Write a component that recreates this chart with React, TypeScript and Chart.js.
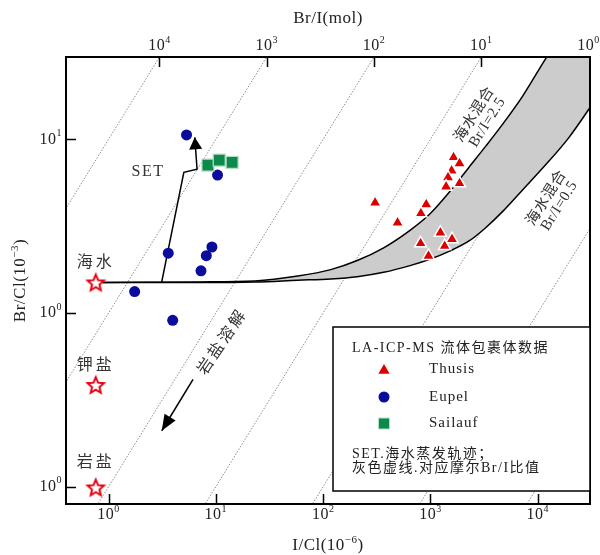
import React, { useEffect, useRef } from 'react';
import { Chart, registerables } from 'chart.js';

Chart.register(...registerables);

// ---------- axis ranges & ticks ----------
const xRange = [0.401, 30740];
const yRange = [0.0795, 29.8];
const xTickValues = [1, 10, 100, 1000, 10000];
const xTickExps = ['0', '1', '2', '3', '4'];
const yTickValues = [10, 1, 0.1];
const yTickExps = ['1', '0', '0'];
const topTickValues = [10000, 1000, 100, 10, 1];
const topTickExps = ['4', '3', '2', '1', '0'];
const brIRatios = [1e4, 1e3, 1e2, 1e1, 1e0, 1e-1, 1e-2];

// ---------- data ----------
const thusisICl = [1644, 1868, 1577, 1460, 1868, 1400, 305, 914, 815, 494, 1239, 1589, 810, 1358, 960];
const thusisBrCl = [7.88, 7.27, 6.6, 6.04, 5.58, 5.34, 4.32, 4.22, 3.75, 3.31, 2.9, 2.66, 2.52, 2.43, 2.13];
const eupelICl = [5.33, 10.37, 3.6, 9.19, 8.15, 7.27, 1.75, 3.96];
const eupelBrCl = [10.6, 6.23, 2.21, 2.4, 2.14, 1.75, 1.33, 0.908];
const sailaufICl = [8.44, 10.75, 14.17];
const sailaufBrCl = [7.11, 7.6, 7.37];
const refNames = ['海水', '钾盐', '岩盐'];
const refICl = [0.759, 0.759, 0.759];
const refBrCl = [1.5, 0.385, 0.099];

const mixICl = [0.88, 6.92, 23.1, 58.0, 117.8, 207.8, 366.6, 645.5, 987.4, 1511, 2311, 3296, 4699, 7194, 11800, 19370, 29640, 34200];
const mixUpperBrCl = [1.5, 1.51, 1.53, 1.633, 1.778, 2.005, 2.374, 2.993, 3.715, 4.987, 6.96, 9.17, 12.2, 17.64, 29.0, 46.05, 69.7, 80.2];
const mixLowerBrCl = [1.5, 1.5, 1.51, 1.545, 1.571, 1.618, 1.715, 1.875, 2.04, 2.272, 2.608, 3.11, 3.835, 5.1, 7.11, 10.17, 14.75, 16.9];

const setICl = [3.13, 5.03, 6.68, 6.36];
const setBrCl = [1.51, 6.46, 6.74, 10.27];
const haliteICl = [6.13, 3.13];
const haliteBrCl = [0.415, 0.21];

const legendTitle = 'LA-ICP-MS 流体包裹体数据';
const legendSeries = ['Thusis', 'Eupel', 'Sailauf'];
const legendNotes = ['SET.海水蒸发轨迹；', '灰色虚线.对应摩尔Br/I比值'];
const xTitle = ['I/Cl(10', '−6', ')'];
const yTitle = ['Br/Cl(10', '−3', ')'];
const topTitle = 'Br/I(mol)';

// ---------- styles ----------
const FONT = '"Liberation Serif", "Times New Roman", "Noto Sans CJK SC", serif';
const RED = '#dc0000';
const STAR_RED = '#e60012';
const BLUE = '#0b0b9c';
const GREEN = '#0d8a4b';
const GREEN_EDGE = '#b9dfc6';
const TEXT = '#333333';

function makeStar(): HTMLCanvasElement {
  const c = document.createElement('canvas');
  c.width = 22;
  c.height = 22;
  const g = c.getContext('2d')!;
  g.beginPath();
  for (let i = 0; i < 10; i++) {
    const r = i % 2 === 0 ? 8.6 : 3.9;
    const a = -Math.PI / 2 + (i * Math.PI) / 5;
    const px = 11 + r * Math.cos(a);
    const py = 11.8 + r * Math.sin(a);
    if (i === 0) g.moveTo(px, py);
    else g.lineTo(px, py);
  }
  g.closePath();
  g.fillStyle = '#fff';
  g.fill();
  g.lineWidth = 2;
  g.strokeStyle = STAR_RED;
  g.stroke();
  return c;
}

type Seg = { t: string; font: string; dy: number };

function richText(ctx: CanvasRenderingContext2D, segs: Seg[], x: number, y: number, align: 'left' | 'center' | 'right', spacing = '0px') {
  ctx.textAlign = 'left';
  ctx.textBaseline = 'middle';
  (ctx as any).letterSpacing = spacing;
  const widths = segs.map((s) => {
    ctx.font = s.font;
    return ctx.measureText(s.t).width;
  });
  const total = widths.reduce((p, c) => p + c, 0);
  let cx = align === 'left' ? x : align === 'center' ? x - total / 2 : x - total;
  segs.forEach((s, i) => {
    ctx.font = s.font;
    ctx.fillText(s.t, cx, y + s.dy);
    cx += widths[i];
  });
  (ctx as any).letterSpacing = '0px';
}

function text(ctx: CanvasRenderingContext2D, t: string, x: number, y: number, size: number, align: CanvasTextAlign, spacing = '0px', color = TEXT) {
  ctx.fillStyle = color;
  ctx.font = `${size}px ${FONT}`;
  ctx.textAlign = align;
  ctx.textBaseline = 'middle';
  (ctx as any).letterSpacing = spacing;
  ctx.fillText(t, x, y);
  (ctx as any).letterSpacing = '0px';
}

function rotatedLines(ctx: CanvasRenderingContext2D, lines: string[], cx: number, cy: number, deg: number, gap: number, size: number, spacing = '0px') {
  ctx.save();
  ctx.translate(cx, cy);
  ctx.rotate((deg * Math.PI) / 180);
  const n = lines.length;
  lines.forEach((l, i) => {
    text(ctx, l, 0, (i - (n - 1) / 2) * gap, size, 'center', spacing);
  });
  ctx.restore();
}

function arrowHead(ctx: CanvasRenderingContext2D, fx: number, fy: number, tx: number, ty: number, len: number, hw: number) {
  const a = Math.atan2(ty - fy, tx - fx);
  const bx = tx - len * Math.cos(a);
  const by = ty - len * Math.sin(a);
  ctx.beginPath();
  ctx.moveTo(tx, ty);
  ctx.lineTo(bx + hw * Math.sin(a), by - hw * Math.cos(a));
  ctx.lineTo(bx - hw * Math.sin(a), by + hw * Math.cos(a));
  ctx.closePath();
  ctx.fillStyle = '#000';
  ctx.fill();
}

function triangleMark(ctx: CanvasRenderingContext2D, x: number, y: number, r: number) {
  ctx.beginPath();
  ctx.moveTo(x, y - r);
  ctx.lineTo(x + r * 0.866, y + r * 0.5);
  ctx.lineTo(x - r * 0.866, y + r * 0.5);
  ctx.closePath();
  ctx.fillStyle = RED;
  ctx.fill();
}

const decorPlugin = {
  id: 'decor',
  afterDatasetsDraw(chart: any) {
    const { ctx, chartArea: a, scales } = chart;
    const xs = scales.x;
    const ys = scales.y;
    const xt = scales.x2;
    ctx.save();

    // arrow heads
    const sn = setICl.length;
    arrowHead(ctx, xs.getPixelForValue(setICl[sn - 2]), ys.getPixelForValue(setBrCl[sn - 2]), xs.getPixelForValue(setICl[sn - 1]), ys.getPixelForValue(setBrCl[sn - 1]), 12, 6.5);
    arrowHead(ctx, xs.getPixelForValue(haliteICl[0]), ys.getPixelForValue(haliteBrCl[0]), xs.getPixelForValue(haliteICl[1]), ys.getPixelForValue(haliteBrCl[1]), 16, 6.5);

    // frame
    ctx.strokeStyle = '#000';
    ctx.lineWidth = 2;
    ctx.strokeRect(a.left, a.top, a.right - a.left, a.bottom - a.top);

    // ticks (inside)
    ctx.lineWidth = 1.5;
    ctx.beginPath();
    xTickValues.forEach((v) => {
      const px = Math.round(xs.getPixelForValue(v)) + 0.5;
      ctx.moveTo(px, a.bottom);
      ctx.lineTo(px, a.bottom - 10);
    });
    topTickValues.forEach((v) => {
      const px = Math.round(xt.getPixelForValue(v)) + 0.5;
      if (px < a.right - 3) {
        ctx.moveTo(px, a.top);
        ctx.lineTo(px, a.top + 10);
      }
    });
    yTickValues.forEach((v) => {
      const py = Math.round(ys.getPixelForValue(v)) + 0.5;
      ctx.moveTo(a.left, py);
      ctx.lineTo(a.left + 10, py);
    });
    ctx.stroke();

    // tick labels
    ctx.fillStyle = '#222';
    const base = `16px ${FONT}`;
    const sup = `10px ${FONT}`;
    xTickValues.forEach((v, i) => {
      richText(ctx, [{ t: '10', font: base, dy: 0 }, { t: xTickExps[i], font: sup, dy: -6 }], xs.getPixelForValue(v), 515, 'center', '0.5px');
    });
    topTickValues.forEach((v, i) => {
      richText(ctx, [{ t: '10', font: base, dy: 0 }, { t: topTickExps[i], font: sup, dy: -6 }], xt.getPixelForValue(v), 46, 'center', '0.5px');
    });
    yTickValues.forEach((v, i) => {
      richText(ctx, [{ t: '10', font: base, dy: 0 }, { t: yTickExps[i], font: sup, dy: -6 }], 62, ys.getPixelForValue(v), 'right', '0.5px');
    });

    // axis titles
    ctx.fillStyle = '#222';
    const tf = `17px ${FONT}`;
    const tsf = `11px ${FONT}`;
    richText(ctx, [{ t: xTitle[0], font: tf, dy: 0 }, { t: xTitle[1], font: tsf, dy: -6 }, { t: xTitle[2], font: tf, dy: 0 }], (a.left + a.right) / 2, 546, 'center', '0.5px');
    text(ctx, topTitle, (a.left + a.right) / 2, 19, 17, 'center', '0.5px', '#222');
    ctx.save();
    ctx.translate(21, (a.top + a.bottom) / 2);
    ctx.rotate(-Math.PI / 2);
    ctx.fillStyle = '#222';
    richText(ctx, [{ t: yTitle[0], font: tf, dy: 0 }, { t: yTitle[1], font: tsf, dy: -6 }, { t: yTitle[2], font: tf, dy: 0 }], 0, 0, 'center', '0.5px');
    ctx.restore();

    // reference labels
    const refOffsets = [-20, -19, -25];
    refNames.forEach((n, i) => {
      text(ctx, n, xs.getPixelForValue(refICl[i]), ys.getPixelForValue(refBrCl[i]) + refOffsets[i], 16, 'center', '3px');
    });
    text(ctx, 'SET', 148, 172, 16, 'center', '1.5px');

    // rotated annotations
    rotatedLines(ctx, ['岩盐溶解'], 223, 342, -56, 0, 16, '3px');
    rotatedLines(ctx, ['海水混合', 'Br/I=2.5'], 481, 118.5, -58, 15, 15, '0.5px');
    rotatedLines(ctx, ['海水混合', 'Br/I=0.5'], 553, 202, -58, 15, 15, '0.5px');

    // legend box
    const L = 333, T = 327, R = a.right, B = 491;
    ctx.fillStyle = '#fff';
    ctx.fillRect(L, T, R - L, B - T);
    ctx.strokeStyle = '#000';
    ctx.lineWidth = 1.5;
    ctx.strokeRect(L, T, R - L, B - T);
    text(ctx, legendTitle, 352, 348.5, 14, 'left', '1.5px', '#222');
    const ly = [369.5, 397, 423.5];
    triangleMark(ctx, 384, ly[0] + 1, 6.5);
    ctx.beginPath();
    ctx.arc(384, ly[1], 5.5, 0, Math.PI * 2);
    ctx.fillStyle = BLUE;
    ctx.fill();
    ctx.fillStyle = GREEN;
    ctx.fillRect(378.5, ly[2] - 5.5, 11, 11);
    ctx.strokeStyle = GREEN_EDGE;
    ctx.lineWidth = 1;
    ctx.strokeRect(378.5, ly[2] - 5.5, 11, 11);
    legendSeries.forEach((s, i) => text(ctx, s, 429, ly[i], 15, 'left', '1px', '#222'));
    text(ctx, legendNotes[0], 352, 454, 14, 'left', '1.5px', '#222');
    text(ctx, legendNotes[1], 352, 468.5, 14, 'left', '1.5px', '#222');

    ctx.restore();
  },
};

function pts(xs: number[], ys: number[]) {
  return xs.map((x, i) => ({ x, y: ys[i] }));
}

export default function App() {
  const ref = useRef<HTMLCanvasElement>(null);
  useEffect(() => {
    document.body.style.margin = '0';
    const star = makeStar();
    const ratioSets = brIRatios.map((r) => ({
      data: [
        { x: 0.05, y: (r * 0.05) / 1000 },
        { x: 1e5, y: (r * 1e5) / 1000 },
      ],
      showLine: true,
      borderColor: '#8c8c8c',
      borderWidth: 1,
      borderDash: [1.5, 1.5],
      pointRadius: 0,
      order: 20,
    }));
    const datasets: any[] = [
      ...ratioSets,
      {
        data: pts(mixICl, mixUpperBrCl),
        showLine: true,
        borderColor: '#000',
        borderWidth: 1.5,
        pointRadius: 0,
        cubicInterpolationMode: 'monotone',
        fill: '+1',
        backgroundColor: '#cccccc',
        order: 10,
      },
      {
        data: pts(mixICl, mixLowerBrCl),
        showLine: true,
        borderColor: '#000',
        borderWidth: 1.5,
        pointRadius: 0,
        cubicInterpolationMode: 'monotone',
        fill: false,
        order: 9,
      },
      {
        data: pts(setICl, setBrCl),
        showLine: true,
        borderColor: '#000',
        borderWidth: 1.5,
        pointRadius: 0,
        fill: false,
        order: 8,
      },
      {
        data: pts(haliteICl, haliteBrCl),
        showLine: true,
        borderColor: '#000',
        borderWidth: 1.5,
        pointRadius: 0,
        fill: false,
        order: 8,
      },
      {
        label: 'Thusis',
        data: pts(thusisICl, thusisBrCl),
        pointStyle: 'triangle',
        pointRadius: 7,
        backgroundColor: RED,
        borderColor: '#ffffff',
        borderWidth: 1.5,
        order: 4,
      },
      {
        label: 'Eupel',
        data: pts(eupelICl, eupelBrCl),
        pointStyle: 'circle',
        pointRadius: 5.5,
        backgroundColor: BLUE,
        borderColor: BLUE,
        borderWidth: 0,
        order: 3,
      },
      {
        label: 'Sailauf',
        data: pts(sailaufICl, sailaufBrCl),
        pointStyle: 'rect',
        pointRadius: 8.5,
        backgroundColor: GREEN,
        borderColor: GREEN_EDGE,
        borderWidth: 1.2,
        order: 2,
      },
      {
        label: 'ref',
        data: pts(refICl, refBrCl),
        pointStyle: star,
        pointRadius: 9,
        order: 1,
      },
    ];
    const hidden = {
      grid: { display: false },
      border: { display: false },
      ticks: { display: false },
    };
    const chart = new Chart(ref.current!, {
      type: 'scatter',
      data: { datasets },
      options: {
        responsive: false,
        animation: false,
        events: [],
        layout: { padding: { left: 0, right: 5, top: 0, bottom: 0 } },
        plugins: { legend: { display: false }, tooltip: { enabled: false } },
        scales: {
          x: {
            type: 'logarithmic',
            position: 'bottom',
            min: xRange[0],
            max: xRange[1],
            ...hidden,
            afterBuildTicks: (s: any) => {
              s.ticks = xTickValues.map((v) => ({ value: v }));
            },
            afterFit: (s: any) => {
              s.height = 51;
            },
          },
          x2: {
            type: 'logarithmic',
            axis: 'x',
            position: 'top',
            reverse: true,
            min: (1000 * yRange[1]) / xRange[1],
            max: (1000 * yRange[1]) / xRange[0],
            ...hidden,
            afterBuildTicks: (s: any) => {
              s.ticks = topTickValues.map((v) => ({ value: v }));
            },
            afterFit: (s: any) => {
              s.height = 57;
            },
          },
          y: {
            type: 'logarithmic',
            position: 'left',
            min: yRange[0],
            max: yRange[1],
            ...hidden,
            afterBuildTicks: (s: any) => {
              s.ticks = yTickValues.map((v) => ({ value: v }));
            },
            afterFit: (s: any) => {
              s.width = 66;
            },
          },
        },
      } as any,
      plugins: [decorPlugin],
    });
    return () => chart.destroy();
  }, []);
  return (
    <div style={{ width: 600, height: 555 }}>
      <canvas ref={ref} width={600} height={555} style={{ display: 'block' }} />
    </div>
  );
}
